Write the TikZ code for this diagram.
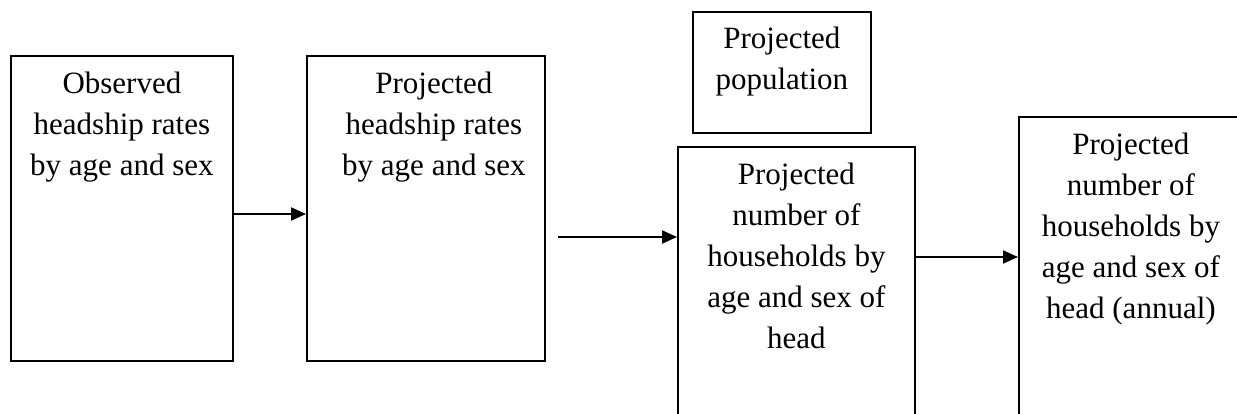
\documentclass[tikz,border=0pt]{standalone}
\usepackage{fontspec}
\setmainfont{Liberation Serif}
\usetikzlibrary{arrows.meta}
\newcommand\boxtxt[4]{\begin{minipage}[t][#2][t]{#1}\centering\advance\leftskip by #4\relax\fontsize{31pt}{41pt}\selectfont\rule{0pt}{38pt}#3\end{minipage}}
\tikzset{
  box/.style={draw, line width=1.8pt, inner sep=0pt, anchor=north west},
  arr/.style={line width=2pt, -{Triangle[length=15pt,width=13pt]}}
}
\begin{document}
\begin{tikzpicture}[x=1pt,y=-1pt]
\useasboundingbox (0,0) rectangle (1237,414);
\node[box] (b1) at (10,55) {\boxtxt{222pt}{305pt}{Observed\\headship rates\\by age and sex}{0pt}};
\node[box] (b2) at (306,55) {\boxtxt{238pt}{305pt}{Projected\\headship rates\\by age and sex}{16pt}};
\node[box] (pop) at (692,11) {\begin{minipage}[t][121pt][t]{178pt}\centering\fontsize{31pt}{41pt}\selectfont\rule{0pt}{37pt}Projected\\population\end{minipage}};
\node[box] (b4) at (677,146) {\boxtxt{237pt}{300pt}{Projected\\number of\\households by\\age and sex of\\head}{0pt}};
\node[box] (b5) at (1018,116) {\boxtxt{224pt}{330pt}{Projected\\number of\\households by\\age and sex of\\head (annual)}{0pt}};
\coordinate (s) at (558,237);
\draw[arr] (b1.east |- 0,214) -- (b2.west |- 0,214);
\draw[arr] (s) -- (b4.west |- s);
\draw[arr] (b4.east |- 0,257) -- (b5.west |- 0,257);
\end{tikzpicture}
\end{document}
